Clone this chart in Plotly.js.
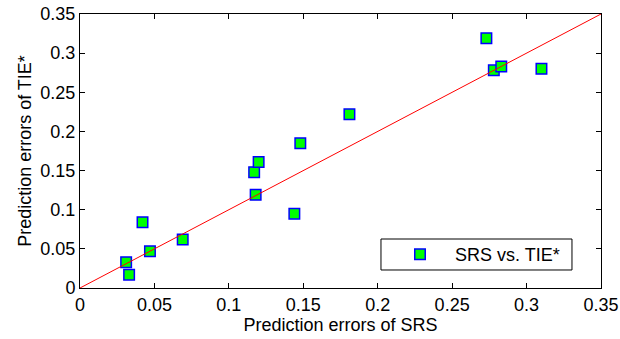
<!DOCTYPE html>
<html>
<head>
<meta charset="utf-8">
<script src="https://cdn.plot.ly/plotly-3.0.1.min.js"></script>
<style>html,body{margin:0;padding:0;background:#fff;} #chart{width:620px;height:339px;}</style>
</head>
<body>
<div id="chart"></div>
<script>
const srsErrors = [0.031, 0.033, 0.042, 0.047, 0.069, 0.117, 0.120, 0.118, 0.144, 0.148, 0.181, 0.273, 0.278, 0.283, 0.310];
const tieErrors = [0.033, 0.017, 0.084, 0.047, 0.062, 0.148, 0.161, 0.119, 0.095, 0.185, 0.222, 0.319, 0.278, 0.283, 0.280];
const refLineX = [0, 0.35];
const refLineY = [0, 0.35];
const tickVals = [0, 0.05, 0.1, 0.15, 0.2, 0.25, 0.3, 0.35];
const tickText = ['0', '0.05', '0.1', '0.15', '0.2', '0.25', '0.3', '0.35'];
const seriesName = '\u00a0\u00a0\u00a0SRS vs. TIE*';

const font = {family: 'Liberation Sans, Arial, sans-serif', size: 18, color: '#000'};

const traces = [
  {x: srsErrors, y: tieErrors, mode: 'markers', name: seriesName,
   marker: {symbol: 'square', size: 10.5, color: '#00ff00', line: {color: '#0000ff', width: 1.5}}},
  {x: refLineX, y: refLineY, mode: 'lines', line: {color: '#ff0000', width: 1}, showlegend: false, hoverinfo: 'skip'}
];

const axisCommon = {
  range: [0, 0.35], tickvals: tickVals, ticktext: tickText,
  showgrid: false, zeroline: false, showline: true, linecolor: '#000', linewidth: 1,
  mirror: 'allticks', ticks: 'inside', ticklen: 5, tickcolor: '#000',
  tickfont: font
};

const layout = {
  width: 620, height: 339,
  margin: {l: 80, r: 19, t: 14, b: 51},
  paper_bgcolor: '#fff', plot_bgcolor: '#fff',
  font: font,
  xaxis: Object.assign({}, axisCommon, {title: {text: 'Prediction errors of SRS', font: font, standoff: 2}}),
  yaxis: Object.assign({}, axisCommon, {title: {text: 'Prediction errors of TIE*', font: font, standoff: 4}}),
  shapes: [
    {type: 'rect', xref: 'paper', yref: 'paper', x0: 0.5777, x1: 0.9443, y0: 0.0657, y1: 0.1788,
     line: {color: '#000', width: 1}, fillcolor: '#fff', layer: 'above'}
  ],
  legend: {x: 0.6142, y: 0.1223, xanchor: 'left', yanchor: 'middle', borderwidth: 0,
           bgcolor: 'rgba(0,0,0,0)', font: font, traceorder: 'normal'},
  showlegend: true
};

Plotly.newPlot('chart', traces, layout, {displayModeBar: false, staticPlot: true});
</script>
</body>
</html>
